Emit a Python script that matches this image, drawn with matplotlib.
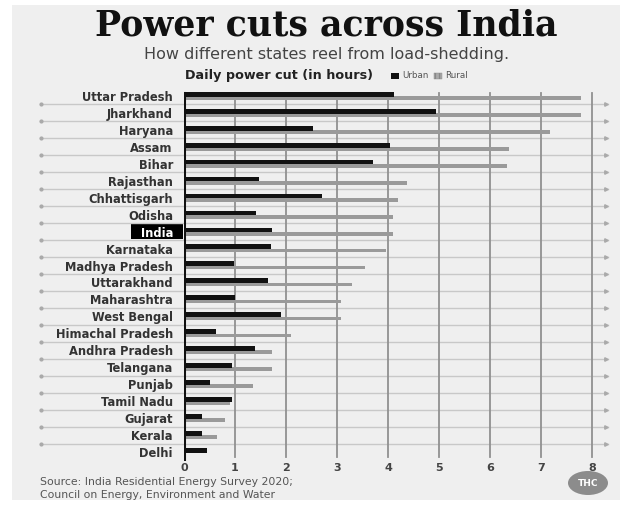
import matplotlib
matplotlib.use("Agg")
import matplotlib.pyplot as plt
from matplotlib.patches import Rectangle, Ellipse
from matplotlib.transforms import blended_transform_factory

states = ["Uttar Pradesh", "Jharkhand", "Haryana", "Assam", "Bihar", "Rajasthan",
          "Chhattisgarh", "Odisha", "India", "Karnataka", "Madhya Pradesh",
          "Uttarakhand", "Maharashtra", "West Bengal", "Himachal Pradesh",
          "Andhra Pradesh", "Telangana", "Punjab", "Tamil Nadu", "Gujarat",
          "Kerala", "Delhi"]
urban = [4.12, 4.95, 2.53, 4.03, 3.71, 1.48, 2.70, 1.41, 1.72, 1.70, 0.99,
         1.65, 1.00, 1.90, 0.63, 1.39, 0.94, 0.51, 0.95, 0.36, 0.36, 0.46]
rural = [7.78, 7.78, 7.18, 6.37, 6.33, 4.38, 4.20, 4.10, 4.09, 3.96, 3.55,
         3.29, 3.07, 3.07, 2.09, 1.72, 1.72, 1.36, 0.90, 0.80, 0.65, 0.0]
xticks = [0, 1, 2, 3, 4, 5, 6, 7, 8]

W, H = 630, 508
fig = plt.figure(figsize=(W / 100, H / 100), dpi=100)
fig.patch.set_facecolor("white")
BG = "#efefef"
fig.add_artist(Rectangle((12 / W, 1 - 500 / H), (620 - 12) / W, (500 - 5) / H,
                         transform=fig.transFigure, facecolor=BG, edgecolor="none", zorder=-5))

def fx(px):
    return px / W

def fy(py):
    return 1 - py / H

SANS = "DejaVu Sans"
x0, x1 = 184, 610
y_top, y_bot = 87.5, 460.5
ax = fig.add_axes([fx(x0), fy(y_bot), (x1 - x0) / W, (y_bot - y_top) / H])
ax.set_zorder(2)
ax.set_facecolor("none")
unit = 51.0
ax.set_xlim(0, (x1 - x0) / unit)
n = len(states)
ax.set_ylim(n - 0.5, -0.5)

ypos = list(range(n))
for t in xticks[1:]:
    ax.axvline(t, color="#909090", lw=1.3, zorder=1, ymin=0.01, ymax=0.985)
tr = blended_transform_factory(fig.transFigure, ax.transData)
for i in range(n - 1):
    ax.plot([fx(40), fx(608)], [i + 0.5, i + 0.5], transform=tr, color="#c8c8c8",
            lw=1.0, clip_on=False, zorder=0.5)
    ax.plot([fx(41)], [i + 0.5], transform=tr, marker="o", ms=2, color="#aaaaaa",
            clip_on=False, zorder=0.6)
    ax.plot([fx(606)], [i + 0.5], transform=tr, marker=">", ms=2.5, color="#aaaaaa",
            clip_on=False, zorder=0.6)

ax.barh([y + 0.12 for y in ypos], rural, height=0.22, color="#9a9a9a", zorder=2)
ax.barh([y - 0.1 for y in ypos], urban, height=0.28, color="#111111", zorder=3)
ax.axvline(0, color="#111111", lw=2.2, zorder=4, ymin=0.0, ymax=0.985)

for s in ax.spines.values():
    s.set_visible(False)
ax.set_xticks(xticks)
ax.set_xticklabels([str(t) for t in xticks], fontsize=8, fontweight="bold",
                   color="#444444", family=SANS)
ax.tick_params(axis="x", length=0, pad=2)
ax.set_yticks(ypos)
ax.set_yticklabels(states, fontsize=8.3, fontweight="bold", color="#333333", family=SANS)
ax.tick_params(axis="y", length=0, pad=8)
india_idx = states.index("India")
for lab in ax.get_yticklabels():
    if lab.get_text() == "India":
        lab.set_color("white")
trb = blended_transform_factory(fig.transFigure, ax.transData)
fig.add_artist(Rectangle((fx(131), india_idx - 0.45), (183 - 131) / W, 0.9,
                         transform=trb, facecolor="black", edgecolor="none", zorder=1))

fig.text(fx(326), fy(26), "Power cuts across India", ha="center", va="center",
         fontsize=25, fontweight="heavy", family="DejaVu Serif", color="#111111")
fig.text(fx(327), fy(55), "How different states reel from load-shedding.", ha="center",
         va="center", fontsize=11.5, color="#444444", family=SANS)
fig.text(fx(185), fy(76), "Daily power cut (in hours)", ha="left", va="center",
         fontsize=9.2, fontweight="bold", color="#222222", family=SANS)
fig.add_artist(Rectangle((fx(391), fy(79)), 8 / W, 6 / H, transform=fig.transFigure,
                         facecolor="#111111", edgecolor="none"))
fig.text(fx(402), fy(76), "Urban", ha="left", va="center", fontsize=6.3,
         color="#555555", family=SANS)
fig.add_artist(Rectangle((fx(434), fy(79)), 8 / W, 6 / H, transform=fig.transFigure,
                         facecolor="#aaaaaa", edgecolor="#888888", hatch="||||", lw=0.3))
fig.text(fx(445), fy(76), "Rural", ha="left", va="center", fontsize=6.3,
         color="#555555", family=SANS)

fig.text(fx(40), fy(482), "Source: India Residential Energy Survey 2020;", ha="left",
         va="center", fontsize=7.8, color="#555555", family=SANS)
fig.text(fx(40), fy(495), "Council on Energy, Environment and Water", ha="left",
         va="center", fontsize=7.8, color="#555555", family=SANS)

fig.add_artist(Ellipse((fx(588), fy(483)), 40 / W, 24 / H, transform=fig.transFigure,
                       facecolor="#8c8c8c", edgecolor="none"))
fig.text(fx(588), fy(483), "THC", ha="center", va="center", fontsize=6.5,
         fontweight="bold", color="white", family=SANS)

fig.savefig("out.png", dpi=100, facecolor=fig.get_facecolor())
